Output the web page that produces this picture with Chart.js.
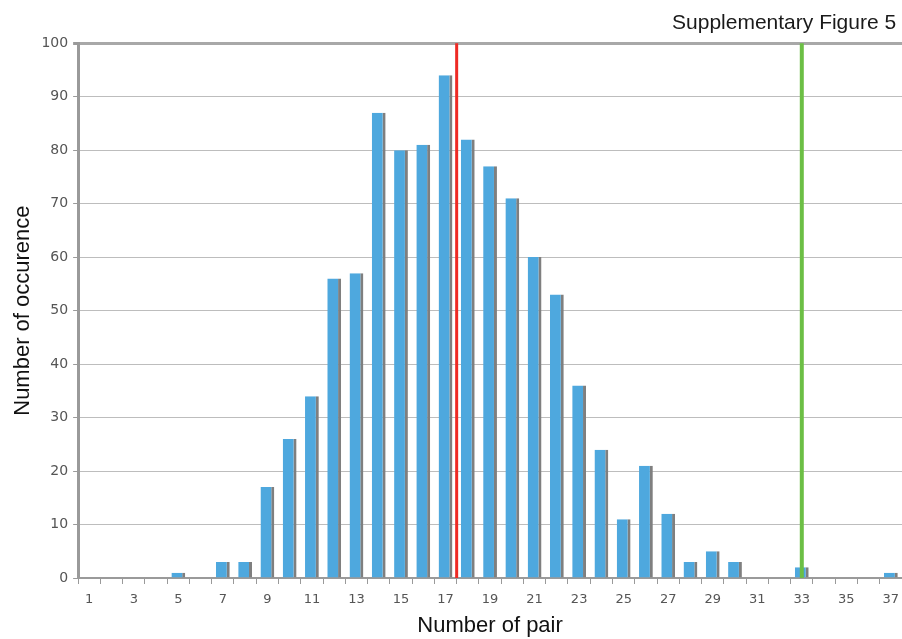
<!DOCTYPE html>
<html>
<head>
<meta charset="utf-8">
<script src="https://cdn.jsdelivr.net/npm/chart.js@4.4.1/dist/chart.umd.min.js"></script>
<style>
  html, body { margin: 0; padding: 0; background: #fff; }
  #wrap { width: 902px; height: 639px; position: relative; }
</style>
</head>
<body>
<div id="wrap"><canvas id="pairChart"></canvas></div>
<script>
// Number of pair (x categories)
const pairCounts = ['1','2','3','4','5','6','7','8','9','10','11','12','13','14','15','16','17','18','19',
                    '20','21','22','23','24','25','26','27','28','29','30','31','32','33','34','35','36','37'];
// Number of occurence for each pair count
const occurences = [0, 0, 0, 0, 1, 0, 3, 3, 17, 26, 34, 56, 57, 87, 80, 81, 94, 82, 77,
                    71, 60, 53, 36, 24, 11, 21, 12, 3, 5, 3, 0, 0, 2, 0, 0, 0, 1];
const yTicks = [0, 10, 20, 30, 40, 50, 60, 70, 80, 90, 100];

// Reference markers (in units of "number of pair")
const meanPair = 17.5;      // red line
const observedPair = 33;    // green line

// Draws the two vertical marker lines over the bars
const markerLines = {
    id: 'markerLines',
    afterDatasetsDraw(chart) {
        const { ctx, chartArea, scales: { x } } = chart;
        const lines = [
            { value: meanPair, color: '#ee2a24', width: 3 },
            { value: observedPair, color: '#6cbf45', width: 4 }
        ];
        ctx.save();
        lines.forEach(line => {
            // category index = pair count - 1
            const px = x.getPixelForValue(line.value - 1);
            ctx.strokeStyle = line.color;
            ctx.lineWidth = line.width;
            ctx.beginPath();
            ctx.moveTo(px, chartArea.top);
            ctx.lineTo(px, chartArea.bottom);
            ctx.stroke();
        });
        ctx.restore();
    }
};

new Chart(document.getElementById('pairChart'), {
    type: 'bar',
    data: {
        labels: pairCounts,
        datasets: [{
            data: occurences,
            backgroundColor: '#4ea8de',
            borderColor: '#7f7f7f',
            borderWidth: { top: 0, right: 3, bottom: 0, left: 0 },
            borderSkipped: false,
            barPercentage: 0.62,
            categoryPercentage: 1
        }]
    },
    options: {
        responsive: true,
        maintainAspectRatio: false,
        animation: false,
        layout: { padding: { top: 0, right: 0, bottom: 0, left: 10 } },
        plugins: {
            legend: { display: false },
            tooltip: { enabled: false },
            title: {
                display: true,
                // trailing space keeps the title off the right edge
                text: 'Supplementary Figure 5 ',
                align: 'end',
                color: '#1a1a1a',
                font: { family: '"Liberation Sans", Arial, sans-serif', size: 21, weight: 'normal' },
                padding: { top: 11, bottom: 7 }
            }
        },
        scales: {
            x: {
                offset: true,
                afterFit: s => { s.paddingRight = 0; s.height = 61; },
                grid: {
                    offset: true,
                    drawOnChartArea: false,
                    drawTicks: true,
                    tickLength: 6,
                    color: '#9a9a9a',
                    lineWidth: 1
                },
                border: { display: true, color: '#9a9a9a', width: 2 },
                ticks: {
                    autoSkip: false,
                    maxRotation: 0,
                    padding: 8,
                    color: '#555',
                    font: { family: '"DejaVu Sans", Verdana, sans-serif', size: 13 },
                    callback: (val, i) => (i % 2 === 0 ? pairCounts[i] : '')
                },
                title: {
                    display: true,
                    text: 'Number of pair',
                    color: '#111',
                    font: { family: '"Liberation Sans", Arial, sans-serif', size: 22, lineHeight: 1 },
                    padding: { top: 0, bottom: 2 }
                }
            },
            y: {
                min: 0,
                max: 100,
                afterBuildTicks: axis => { axis.ticks = yTicks.map(v => ({ value: v })); },
                grid: {
                    color: ctx => (ctx.tick && ctx.tick.value === 100 ? '#a8a8a8' : '#bdbdbd'),
                    lineWidth: ctx => (ctx.tick && ctx.tick.value === 100 ? 3 : 1),
                    tickLength: 5,
                    tickColor: '#9a9a9a'
                },
                border: { display: true, color: '#9a9a9a', width: 3 },
                ticks: {
                    padding: 5,
                    color: '#555',
                    font: { family: '"DejaVu Sans", Verdana, sans-serif', size: 14 }
                },
                title: {
                    display: true,
                    text: 'Number of occurence',
                    color: '#111',
                    font: { family: '"Liberation Sans", Arial, sans-serif', size: 22 },
                    padding: { top: 0, bottom: 0 }
                }
            }
        }
    },
    plugins: [markerLines]
});
</script>
</body>
</html>
